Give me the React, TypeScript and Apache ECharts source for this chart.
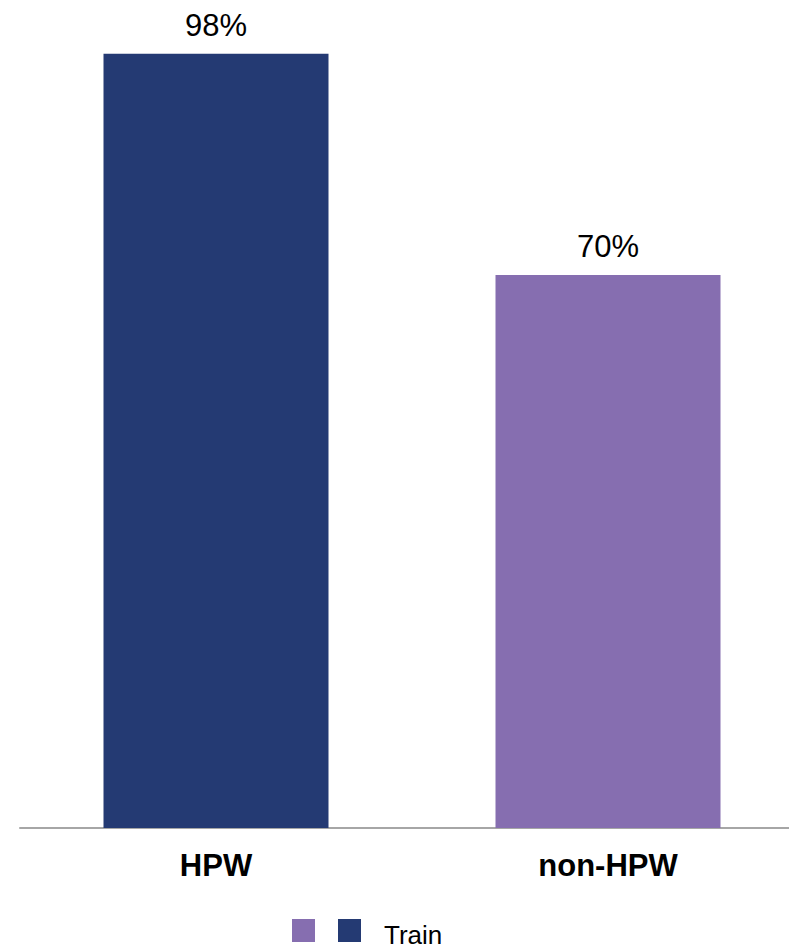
import React, { useEffect, useRef } from "react";
import * as echarts from "echarts";

const categories = ["HPW", "non-HPW"];
const values = [98, 70];
const barColors = ["#243A73", "#866EB0"];
const seriesName = "Train";

export default function App() {
  const ref = useRef<HTMLDivElement>(null);
  useEffect(() => {
    if (!ref.current) return;
    const chart = echarts.init(ref.current, null, { renderer: "svg" });
    chart.setOption({
      animation: false,
      textStyle: { fontFamily: "Liberation Sans, Arial, sans-serif" },
      grid: { left: 20, top: 38, width: 784, height: 790, containLabel: false, outerBoundsMode: "none" },
      legend: {
        left: 338,
        top: 919,
        padding: 0,
        icon: "rect",
        itemWidth: 23,
        itemHeight: 23,
        formatter: "{t|{name}}",
        textStyle: {
          fontSize: 26,
          color: "#000",
          rich: { t: { fontSize: 26, color: "#000", padding: [8, 0, 0, 18] } },
        },
        data: [{ name: seriesName, itemStyle: { color: barColors[0] } }],
        selectedMode: false,
      },
      graphic: [
        {
          type: "rect",
          left: 292,
          top: 919,
          shape: { width: 23, height: 23 },
          style: { fill: barColors[1] },
        },
      ],
      xAxis: {
        type: "category",
        data: categories,
        axisLine: { lineStyle: { color: "#A6A6A6", width: 2 } },
        axisTick: { show: false },
        axisLabel: { fontSize: 31, fontWeight: "bold", color: "#000", margin: 22 },
      },
      yAxis: { type: "value", min: 0, max: 100, show: false, splitLine: { show: false } },
      series: [
        {
          name: seriesName,
          type: "bar",
          barWidth: 225,
          data: values.map((v, i) => ({ value: v, itemStyle: { color: barColors[i] } })),
          itemStyle: { color: barColors[0] },
          label: {
            show: true,
            position: "top",
            distance: 13,
            fontSize: 31,
            color: "#000",
            formatter: "{c}%",
          },
        },
      ],
    });
    return () => chart.dispose();
  }, []);
  return (
    <div
      ref={ref}
      style={{ position: "absolute", left: 0, top: 0, width: 789, height: 947, background: "#fff" }}
    />
  );
}
